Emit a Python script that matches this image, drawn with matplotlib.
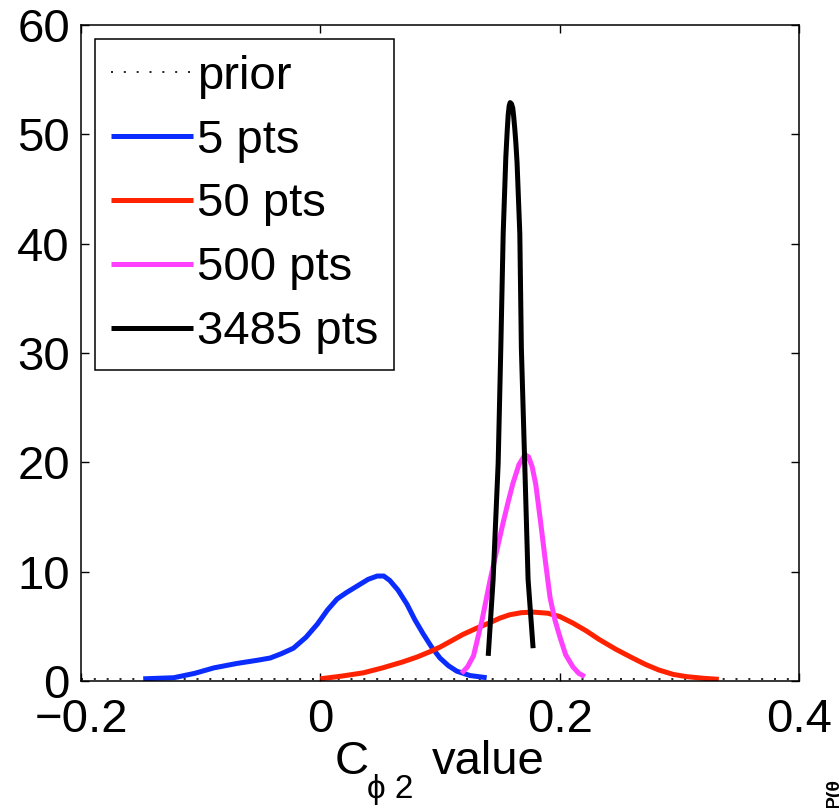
import matplotlib
matplotlib.use('Agg')
import matplotlib.pyplot as plt

plt.rcParams['font.family'] = ['Liberation Sans', 'DejaVu Sans']

# prior (flat, near zero)
prior_x = [-0.2, 0.4]
prior_y = [0.2, 0.2]

# posterior densities
x5 = [-0.148, -0.1225, -0.105, -0.089, -0.07, -0.0525, -0.042, -0.0325, -0.0225, -0.012,
      -0.0025, 0.006, 0.014, 0.022, 0.031, 0.04, 0.0475, 0.053, 0.058, 0.065, 0.0725,
      0.079, 0.086, 0.093, 0.1, 0.107, 0.114, 0.125, 0.139]
y5 = [0.2, 0.3, 0.7, 1.2, 1.6, 1.9, 2.1, 2.5, 3.0, 4.0,
      5.2, 6.5, 7.5, 8.1, 8.7, 9.3, 9.6, 9.6, 9.2, 8.3, 7.0,
      5.6, 4.3, 3.1, 2.1, 1.4, 0.9, 0.5, 0.3]

x50 = [0.0, 0.018, 0.036, 0.052, 0.069, 0.081, 0.092, 0.1, 0.11, 0.119, 0.131, 0.142, 0.15,
       0.158, 0.168, 0.178, 0.19, 0.2, 0.211, 0.222, 0.233, 0.247, 0.261, 0.272, 0.283,
       0.295, 0.306, 0.32, 0.333]
y50 = [0.2, 0.45, 0.75, 1.2, 1.75, 2.2, 2.7, 3.1, 3.7, 4.25, 4.85, 5.35, 5.75,
       6.05, 6.25, 6.3, 6.2, 5.9, 5.3, 4.6, 3.8, 2.9, 2.1, 1.5, 1.0,
       0.6, 0.4, 0.25, 0.15]

x500 = [0.118, 0.123, 0.128, 0.135, 0.142, 0.148, 0.153, 0.157, 0.161, 0.166, 0.171, 0.174,
        0.177, 0.18, 0.184, 0.188, 0.192, 0.196, 0.2, 0.205, 0.211, 0.216, 0.221]
y500 = [0.7, 1.3, 2.3, 5.5, 9.3, 12.2, 14.6, 16.4, 18.1, 19.8, 20.7, 20.5,
        19.6, 18.0, 14.6, 11.0, 7.6, 5.6, 4.1, 2.4, 1.3, 0.7, 0.4]

x3485 = [0.1403, 0.1444, 0.1486, 0.1508, 0.1528, 0.155, 0.1562, 0.157, 0.1578, 0.1586,
         0.1597, 0.1608, 0.1616, 0.1625, 0.1634, 0.1644, 0.1667, 0.168, 0.1708, 0.1736,
         0.1778]
y3485 = [2.3, 9.3, 19.9, 30.4, 40.9, 47.9, 50.4, 51.8, 52.6, 52.9,
         52.8, 52.4, 51.6, 50.5, 49.2, 47.4, 40.9, 30.4, 19.9, 9.3,
         3.0]

labels = ['prior', '5 pts', '50 pts', '500 pts', '3485 pts']
colors = ['black', '#0a2cff', '#ff2200', '#ff40ff', 'black']

fig = plt.figure(figsize=(8.39, 8.08), dpi=100)
ax = fig.add_axes([81 / 839, 1 - 681 / 808, 718 / 839, 656 / 808])

lw = 3.6
ax.plot(prior_x, prior_y, color=colors[0], lw=1.2, linestyle=(0, (1.2, 6.5)), label=labels[0])
ax.plot(x5, y5, color=colors[1], lw=lw, label=labels[1], solid_capstyle='butt')
ax.plot(x50, y50, color=colors[2], lw=lw, label=labels[2], solid_capstyle='butt')
ax.plot(x500, y500, color=colors[3], lw=lw, label=labels[3], solid_capstyle='butt')
ax.plot(x3485, y3485, color=colors[4], lw=lw, label=labels[4], solid_capstyle='butt')

ax.set_xlim(-0.2, 0.4)
ax.set_ylim(0, 60)
ax.set_xticks([-0.2, 0, 0.2, 0.4])
ax.set_xticklabels(['\u22120.2', '0', '0.2', '0.4'])
ax.set_yticks(range(0, 61, 10))
ax.tick_params(direction='in', length=6, width=1, top=True, right=True,
               labelsize=34, pad=8)
ax.tick_params(axis='x', pad=12)
for s in ax.spines.values():
    s.set_linewidth(1.1)

leg = ax.legend(loc='upper left', fontsize=34, frameon=True, fancybox=False,
                edgecolor='black', framealpha=1, borderaxespad=0.3,
                borderpad=0.33, labelspacing=0.42, handlelength=1.75,
                handletextpad=0.08)
leg.get_frame().set_linewidth(1.1)

# x label: C with subscript, built from pieces
fig.text(335 / 839, 1 - 774 / 808, 'C', fontsize=34, ha='left', va='baseline')
fig.text(367 / 839, 1 - 798 / 808, '\u03d5 2', fontsize=24, ha='left', va='baseline',
         family=['Liberation Sans', 'DejaVu Sans'])
fig.text(432 / 839, 1 - 774 / 808, 'value', fontsize=34, ha='left', va='baseline')

# clipped label of the neighbouring panel
fig.text(834 / 839, 0.0, 'P(\u03b8', fontsize=14, weight='bold', rotation=90,
         ha='center', va='bottom')

fig.savefig('out.png', dpi=100)
